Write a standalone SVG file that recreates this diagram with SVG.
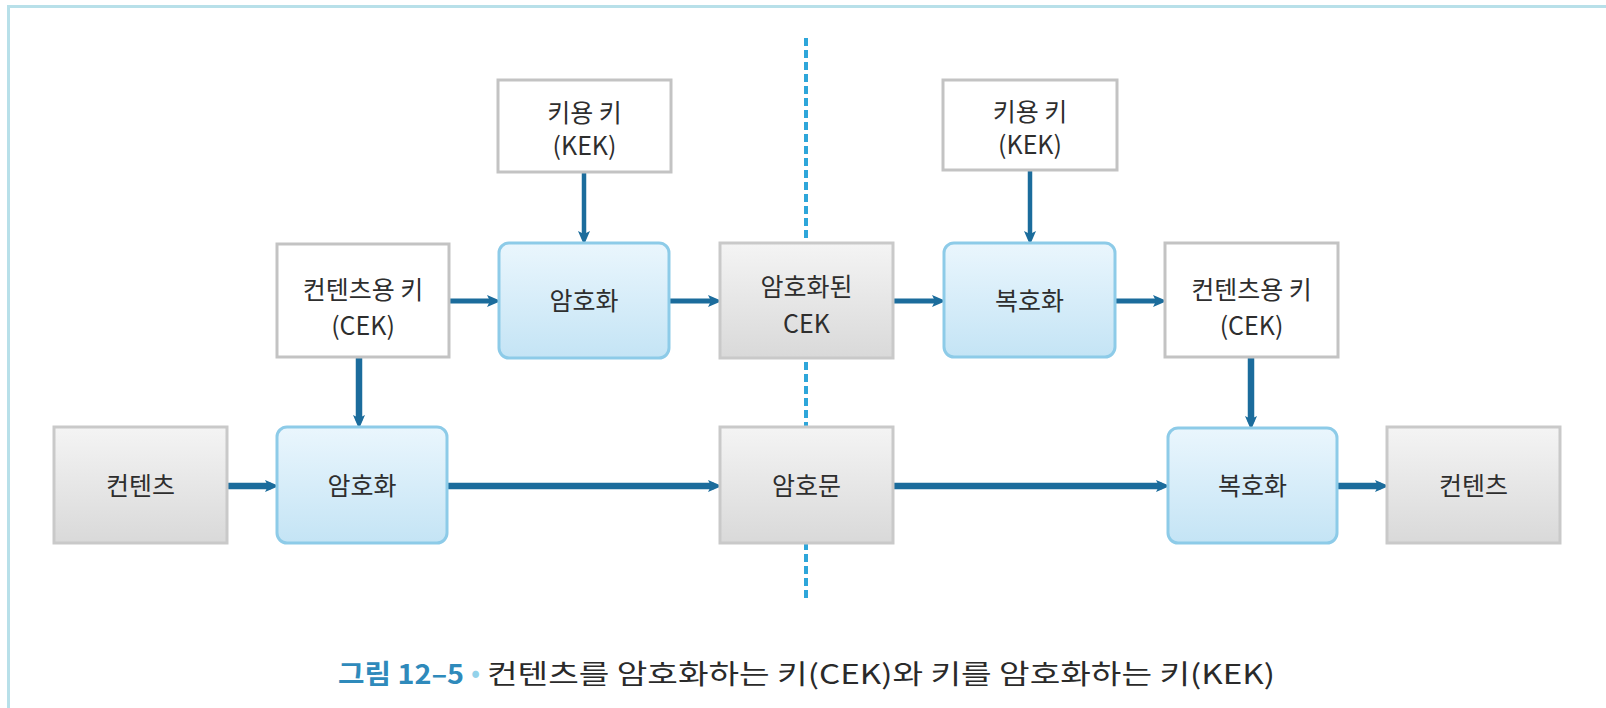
<svg xmlns="http://www.w3.org/2000/svg" width="1606" height="708" viewBox="0 0 1606 708">
<defs>
<linearGradient id="gGray" x1="0" y1="0" x2="0" y2="1">
<stop offset="0" stop-color="#f4f4f4"/><stop offset="1" stop-color="#d9d9d9"/>
</linearGradient>
<linearGradient id="gBlue" x1="0" y1="0" x2="0" y2="1">
<stop offset="0" stop-color="#eaf6fd"/><stop offset="1" stop-color="#c4e4f5"/>
</linearGradient>
<marker id="ah" viewBox="0 0 14 12" refX="6" refY="6" markerWidth="14" markerHeight="12" markerUnits="userSpaceOnUse" orient="auto">
<path d="M0,0 L14,6 L0,12 L3,6 z" fill="#1b6c9c"/>
</marker>
</defs>
<style>
.white{fill:#ffffff;stroke:#c3c3c3;stroke-width:3}
.gray{fill:url(#gGray);stroke:#c9c9c9;stroke-width:3}
.blue{fill:url(#gBlue);stroke:#8dcbe8;stroke-width:3}
.t{font-family:"Noto Sans CJK KR","Noto Sans",sans-serif;font-size:25px;fill:#2e2e2e;text-anchor:middle}
.c{stroke:#1b6c9c;fill:none;marker-end:url(#ah)}
.w4{stroke-width:4.5}
.w5{stroke-width:5}
.w6{stroke-width:6.5}
.cap{font-family:"Noto Sans CJK KR","Noto Sans",sans-serif;font-size:27px}
</style>
<rect width="1606" height="708" fill="#ffffff"/>
<path d="M8.5,708 V6.5 H1606" fill="none" stroke="#b8e0e9" stroke-width="3"/>
<line x1="806" y1="38" x2="806" y2="598" stroke="#2ea6da" stroke-width="4" stroke-dasharray="8 4"/>

<g id="connectors">
<line class="c w4" x1="584" y1="173" x2="584" y2="237"/>
<line class="c w5" x1="450" y1="301" x2="493" y2="301"/>
<line class="c w5" x1="670" y1="301" x2="714" y2="301"/>
<line class="c w5" x1="894" y1="301" x2="938" y2="301"/>
<line class="c w4" x1="1030" y1="171" x2="1030" y2="237"/>
<line class="c w5" x1="1116" y1="301" x2="1159" y2="301"/>
<line class="c w6" x1="359" y1="358" x2="359" y2="421"/>
<line class="c w6" x1="1251" y1="358" x2="1251" y2="422"/>
<line class="c w6" x1="228" y1="486" x2="271" y2="486"/>
<line class="c w6" x1="448" y1="486" x2="714" y2="486"/>
<line class="c w6" x1="894" y1="486" x2="1162" y2="486"/>
<line class="c w6" x1="1338" y1="486" x2="1381" y2="486"/>
</g>

<g id="kek-left">
<rect class="white" x="498" y="80" width="173" height="92"/>
<text class="t" x="584.5" y="122">키용 키</text>
<text class="t" x="584.5" y="155">(KEK)</text>
</g>
<g id="kek-right">
<rect class="white" x="943" y="80" width="174" height="90"/>
<text class="t" x="1030" y="121">키용 키</text>
<text class="t" x="1030" y="154">(KEK)</text>
</g>
<g id="cek-left">
<rect class="white" x="277" y="244" width="172" height="113"/>
<text class="t" x="363" y="299">컨텐츠용 키</text>
<text class="t" x="363" y="335">(CEK)</text>
</g>
<g id="encrypt-top">
<rect class="blue" x="499" y="243" width="170" height="115" rx="10"/>
<text class="t" x="584" y="310">암호화</text>
</g>
<g id="encrypted-cek">
<rect class="gray" x="720" y="243" width="173" height="115"/>
<text class="t" x="806.5" y="296">암호화된</text>
<text class="t" x="806.5" y="333">CEK</text>
</g>
<g id="decrypt-top">
<rect class="blue" x="944" y="243" width="171" height="114" rx="10"/>
<text class="t" x="1029.5" y="310">복호화</text>
</g>
<g id="cek-right">
<rect class="white" x="1165" y="243" width="173" height="114"/>
<text class="t" x="1251.5" y="299">컨텐츠용 키</text>
<text class="t" x="1251.5" y="335">(CEK)</text>
</g>
<g id="content-left">
<rect class="gray" x="54" y="427" width="173" height="116"/>
<text class="t" x="140.5" y="495">컨텐츠</text>
</g>
<g id="encrypt-bottom">
<rect class="blue" x="277" y="427" width="170" height="116" rx="10"/>
<text class="t" x="362" y="495">암호화</text>
</g>
<g id="ciphertext">
<rect class="gray" x="720" y="427" width="173" height="116"/>
<text class="t" x="806.5" y="495">암호문</text>
</g>
<g id="decrypt-bottom">
<rect class="blue" x="1168" y="428" width="169" height="115" rx="10"/>
<text class="t" x="1252.5" y="495">복호화</text>
</g>
<g id="content-right">
<rect class="gray" x="1387" y="427" width="173" height="116"/>
<text class="t" x="1473.5" y="495">컨텐츠</text>
</g>

<g id="caption">
<text class="cap" x="338" y="684" font-weight="bold" fill="#2f8abb" textLength="126" lengthAdjust="spacingAndGlyphs">그림 12–5</text>
<text class="cap" x="471" y="682" fill="#93d2ea" font-size="20">•</text>
<text class="cap" x="487" y="684" fill="#2a2a2a" textLength="788" lengthAdjust="spacingAndGlyphs">컨텐츠를 암호화하는 키(CEK)와 키를 암호화하는 키(KEK)</text>
</g>
</svg>
